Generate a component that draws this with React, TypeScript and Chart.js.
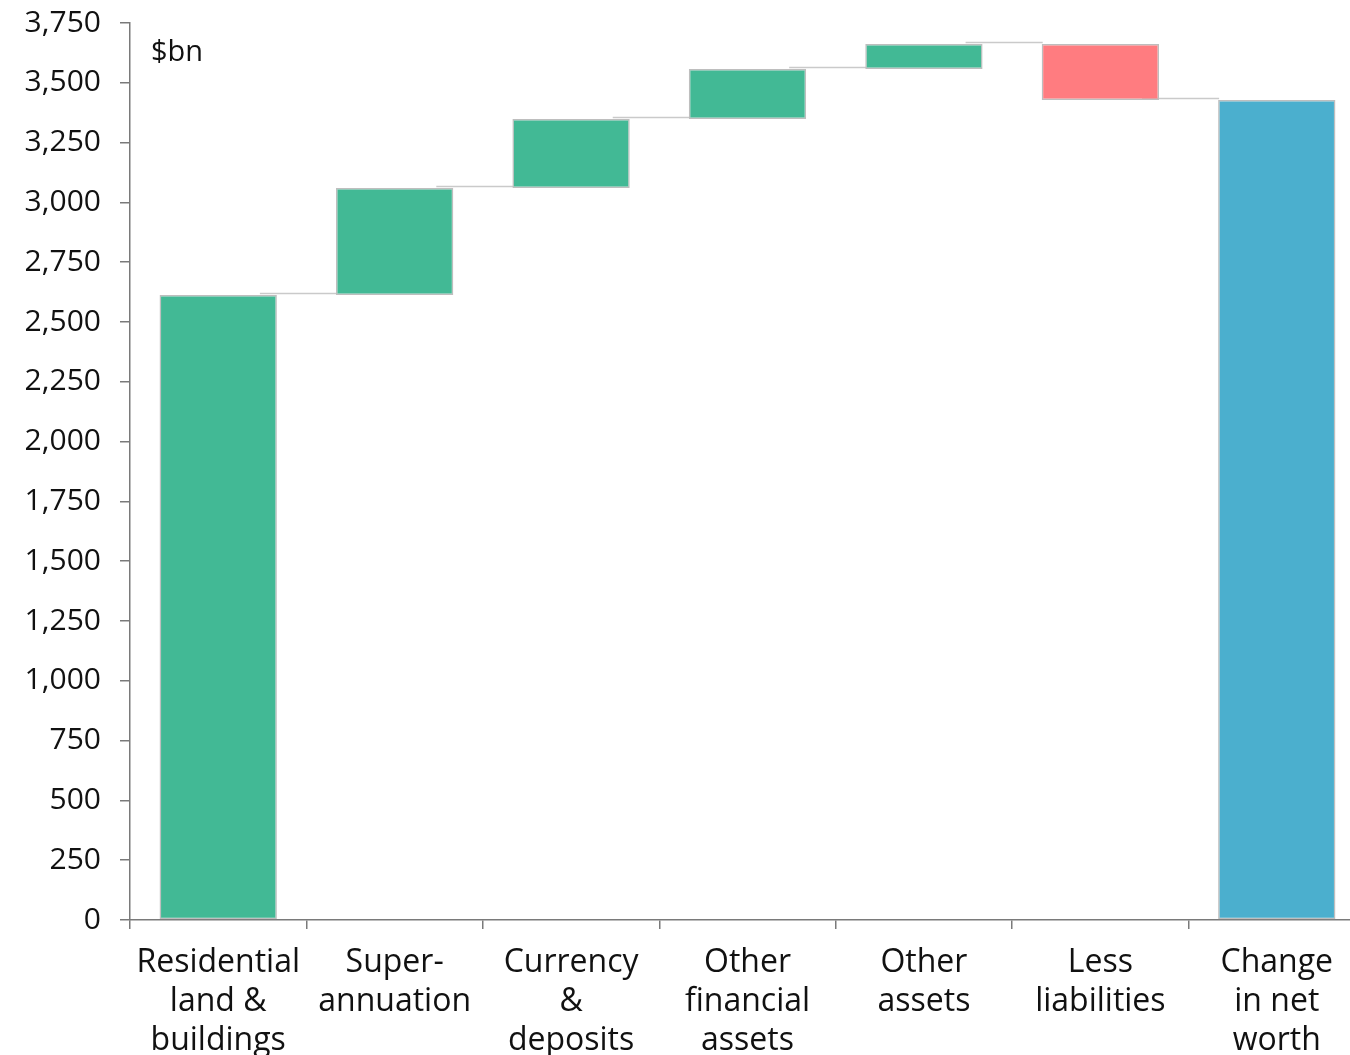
import React, { useEffect, useRef } from "react";
import { Chart, registerables } from "chart.js";
Chart.register(...registerables);

const categories: string[][] = [
  ["Residential", "land &", "buildings"],
  ["Super-", "annuation"],
  ["Currency", "&", "deposits"],
  ["Other", "financial", "assets"],
  ["Other", "assets"],
  ["Less", "liabilities"],
  ["Change", "in net", "worth"],
];
const barBottoms = [0, 2613, 3060, 3349, 3558, 3428, 0];
const barTops = [2613, 3060, 3349, 3558, 3662, 3662, 3428];
const connectorLevels = [2613, 3060, 3349, 3558, 3662, 3428];
const barColors = ["#42B995", "#42B995", "#42B995", "#42B995", "#42B995", "#FF7C80", "#4BAFCE"];
const yMin = 0;
const yMax = 3750;
const yStep = 250;
const unitLabel = "$bn";

const FONT = '"Open Sans", sans-serif';
const W = 1365;
const H = 1100;

export default function App() {
  const ref = useRef<HTMLCanvasElement>(null);
  useEffect(() => {
    if (!ref.current) return;
    const connectorPlugin = {
      id: "connectors",
      beforeDatasetsDraw(chart: any) {
        const meta = chart.getDatasetMeta(0);
        const y = chart.scales.y;
        const ctx = chart.ctx;
        ctx.save();
        ctx.strokeStyle = "#CACACA";
        ctx.lineWidth = 1.5;
        for (let i = 0; i < connectorLevels.length; i++) {
          const a = meta.data[i];
          const b = meta.data[i + 1];
          const x1 = a.x + a.width / 2 - 17;
          const x2 = b.x - b.width / 2 + 1;
          const yy = Math.round(y.getPixelForValue(connectorLevels[i])) - 1.5;
          ctx.beginPath();
          ctx.moveTo(x1, yy);
          ctx.lineTo(x2, yy);
          ctx.stroke();
        }
        ctx.restore();
      },
    };
    const unitPlugin = {
      id: "unit",
      afterDraw(chart: any) {
        const ctx = chart.ctx;
        ctx.save();
        ctx.font = `29px ${FONT}`;
        ctx.fillStyle = "#111";
        ctx.textBaseline = "middle";
        ctx.textAlign = "left";
        ctx.fillText(unitLabel, chart.chartArea.left + 21, chart.chartArea.top + 30);
        ctx.restore();
      },
    };
    const chart = new Chart(ref.current, {
      type: "bar",
      data: {
        labels: categories,
        datasets: [
          {
            data: barBottoms.map((b, i) => [b, barTops[i]]) as any,
            backgroundColor: barColors,
            borderColor: "#BEBEBE",
            borderWidth: 1.5,
            borderSkipped: false,
            categoryPercentage: 1,
            barPercentage: 0.665,
          },
        ],
      },
      options: {
        responsive: false,
        animation: false,
        layout: { padding: { top: 23, right: 0, left: 0, bottom: 0 } },
        plugins: { legend: { display: false }, tooltip: { enabled: false } },
        scales: {
          x: {
            grid: { drawOnChartArea: false, drawTicks: true, tickLength: 9, color: "#7A7A7A", lineWidth: 1.5, offset: true },
            border: { display: true, color: "#7A7A7A", width: 1.5 },
            ticks: { color: "#111", font: { family: FONT, size: 32, lineHeight: 1.22 }, maxRotation: 0, autoSkip: false, padding: 14 },
            afterFit(scale: any) {
              scale.height = H - 920;
              scale.paddingLeft = 0;
              scale.paddingRight = 0;
            },
          },
          y: {
            min: yMin,
            max: yMax,
            grid: { drawOnChartArea: false, drawTicks: true, tickLength: 10, color: "#7A7A7A", lineWidth: 1.5 },
            border: { display: true, color: "#7A7A7A", width: 1.5 },
            ticks: {
              stepSize: yStep,
              color: "#111",
              font: { family: FONT, size: 30 },
              padding: 19,
              callback: (v: any) => Number(v).toLocaleString("en-US"),
            },
            afterFit(scale: any) {
              scale.width = 130;
              scale.paddingTop = 0;
              scale.paddingBottom = 0;
            },
          },
        },
      },
      plugins: [connectorPlugin, unitPlugin],
    });
    return () => chart.destroy();
  }, []);
  return (
    <div style={{ position: "absolute", left: 0, top: 0, width: W, height: H, background: "#fff" }}>
      <canvas ref={ref} width={W} height={H} style={{ width: W, height: H }} />
    </div>
  );
}
